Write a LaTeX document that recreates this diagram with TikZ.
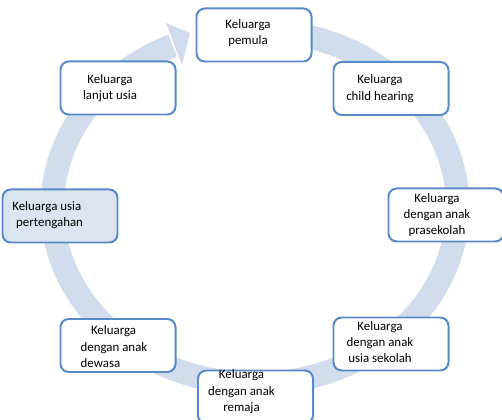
\documentclass[tikz,border=0pt]{standalone}
\usepackage{fontspec}
\setmainfont{Carlito}
\usepackage{xcolor}
\usepackage{tikz}
\usetikzlibrary{shapes}
\usetikzlibrary{arrows}
\definecolor{ringblue}{RGB}{209,220,236}
\definecolor{edgeblue}{RGB}{88,138,200}
\definecolor{paleblue}{RGB}{219,229,241}
\tikzset{
	stage/.style={rectangle,rounded corners=7pt,draw=edgeblue,line width=1.7pt,fill=white,
		minimum width=3.45cm,minimum height=1.59cm},
	tag/.style={align=center,font=\fontsize{11}{14}\selectfont}
}

\begin{document}
\begin{tikzpicture}[x=0.03cm,y=0.03cm]
	\useasboundingbox (0,0) rectangle (502,420);
	% ring with arrow head
	\coordinate (0) at (255,213);
	\draw[ringblue,line width=0.705cm] ([shift={(85:202.75 and 176.75)}]0) arc[start angle=85,end angle=-246,x radius=202.75,y radius=176.75];
	\fill[ringblue] (166,397) -- (190,387) -- (182,355) -- cycle;
	% stages
	\node[stage,label={[tag,xshift=-0.18cm,yshift=0.06cm]center:Keluarga\\pemula}] (1) at (254,385) {};
	\node[stage,label={[tag,xshift=-0.33cm]center:Keluarga\\child hearing}] (2) at (391,331.5) {};
	\node[stage,label={[tag,xshift=-0.27cm]center:Keluarga\\dengan anak\\prasekolah}] (3) at (446,205) {};
	\node[stage,label={[tag,xshift=-0.33cm,yshift=0.06cm]center:Keluarga\\dengan anak\\usia sekolah}] (4) at (391,76) {};
	\node[stage,label={[tag,xshift=-0.42cm,yshift=0.15cm]center:Keluarga\\dengan anak\\remaja}] (5) at (255.5,23) {};
	\node[stage,label={[tag,align=left,xshift=-0.12cm,yshift=-0.04cm]center:\hspace{0.8em}Keluarga\\dengan anak\\dewasa}] (6) at (118,74.5) {};
	\node[stage,fill=paleblue,label={[tag,align=left,xshift=-0.37cm,yshift=0.03cm]center:Keluarga usia\\\hspace{0.3em}pertengahan}] (7) at (60,204) {};
	\node[stage,label={[tag,xshift=-0.24cm]center:Keluarga\\lanjut usia}] (8) at (118,332) {};
\end{tikzpicture}
\end{document}
